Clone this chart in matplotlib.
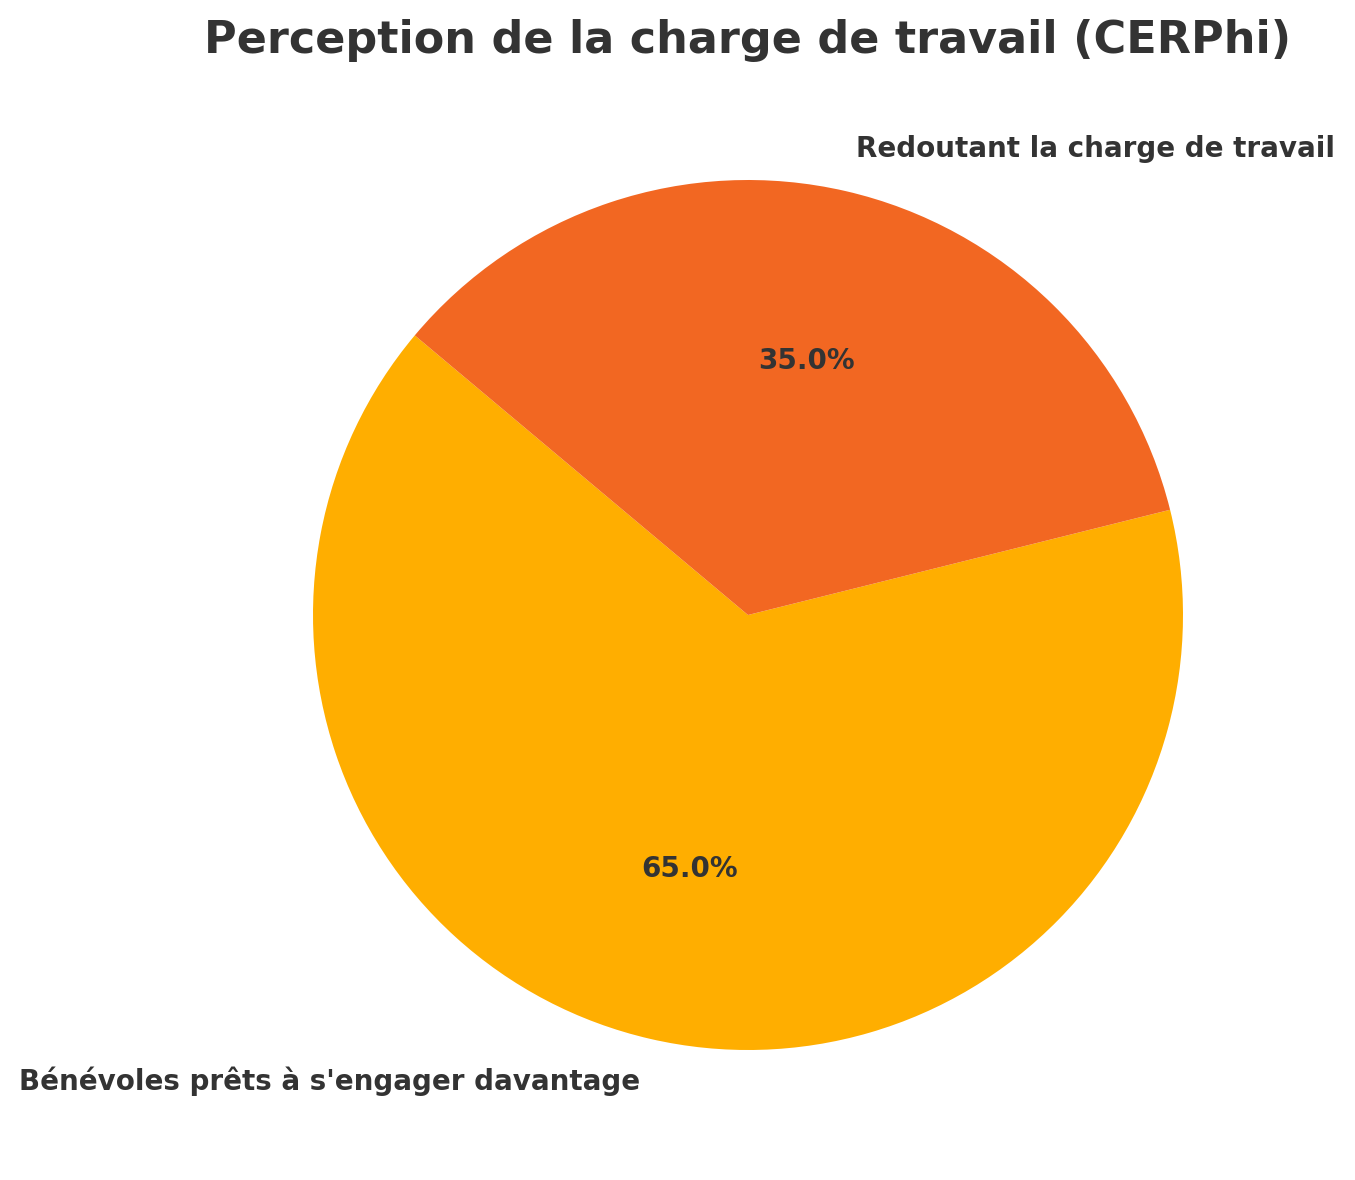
import matplotlib
matplotlib.use("Agg")
import matplotlib.pyplot as plt

labels = ["Bénévoles prêts à s'engager davantage", "Redoutant la charge de travail"]
values = [65.0, 35.0]
colors = ["#FFAE00", "#F26722"]
title = "Perception de la charge de travail (CERPhi)"

W, H = 1355, 1180
fig = plt.figure(figsize=(W / 100, H / 100), dpi=100)
cx, cy, r = 748, 615, 435
side = 2.5 * r
ax = fig.add_axes([(cx - side / 2) / W, (H - cy - side / 2) / H, side / W, side / H])

wedges, texts, autotexts = ax.pie(values, labels=labels, colors=colors, startangle=140,
                                  autopct="%1.1f%%", pctdistance=0.6, labeldistance=1.1,
                                  textprops=dict(color="#333333", fontweight="bold"))
for t in texts:
    t.set_fontsize(20)
for t in autotexts:
    t.set_fontsize(20)
ax.set_aspect("equal")

fig.text(cx / W, 1 - 40 / H, title, ha="center", va="center", fontsize=32,
         fontweight="bold", color="#333333")

fig.savefig("out.png", dpi=100, facecolor="white")
